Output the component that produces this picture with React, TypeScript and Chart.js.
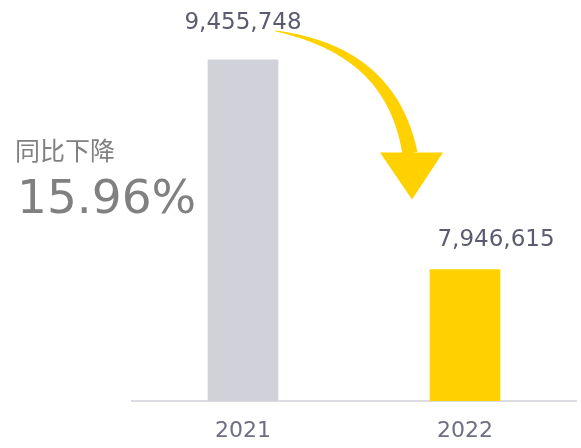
import { useEffect, useRef } from 'react';
import { Chart, registerables } from 'chart.js';

Chart.register(...registerables);

// ---- data ----
const categories = ['2021', '2022'];
const values = [9455748, 7946615];
const valueLabels = ['9,455,748', '7,946,615'];
const changeTitle = '同比下降';
const changeValue = '15.96%';
const yMin = 7000000;
const yMax = 9800000;

// ---- style ----
const barColors = ['#D1D1DA', '#FFD100'];
const arrowColor = '#FFD100';
const valueLabelOffsets = [
  [0, -31],
  [31, -23],
];

const annotationPlugin = {
  id: 'annotations',
  afterDatasetsDraw(chart: any) {
    const ctx = chart.ctx as CanvasRenderingContext2D;
    const meta = chart.getDatasetMeta(0);
    const b0 = meta.data[0];
    const b1 = meta.data[1];
    ctx.save();

    // value labels
    ctx.font = '23px "DejaVu Sans"';
    ctx.fillStyle = '#5B5B70';
    ctx.textAlign = 'center';
    ctx.textBaseline = 'alphabetic';
    meta.data.forEach((bar: any, i: number) => {
      ctx.fillText(valueLabels[i], bar.x + valueLabelOffsets[i][0], bar.y + valueLabelOffsets[i][1]);
    });

    // curved tapered arrow
    const sx = b0.x + 32;
    const sy = b0.y - 29;
    const tipX = b1.x - 53;
    const tipY = b1.y - 70;
    const ex = tipX - 2;
    const ey = tipY - 46;
    const c1x = sx + 70, c1y = sy + 12.5;
    const c2x = ex - 14, c2y = ey - 76;
    const N = 100;
    const left: number[][] = [];
    const right: number[][] = [];
    for (let k = 0; k <= N; k++) {
      const t = k / N;
      const mt = 1 - t;
      const x = mt * mt * mt * sx + 3 * mt * mt * t * c1x + 3 * mt * t * t * c2x + t * t * t * ex;
      const y = mt * mt * mt * sy + 3 * mt * mt * t * c1y + 3 * mt * t * t * c2y + t * t * t * ey;
      const dx = 3 * mt * mt * (c1x - sx) + 6 * mt * t * (c2x - c1x) + 3 * t * t * (ex - c2x);
      const dy = 3 * mt * mt * (c1y - sy) + 6 * mt * t * (c2y - c1y) + 3 * t * t * (ey - c2y);
      const len = Math.hypot(dx, dy) || 1;
      const nx = -dy / len;
      const ny = dx / len;
      const w = (0.8 + 14.5 * Math.pow(t, 0.85)) / 2;
      left.push([x + nx * w, y + ny * w]);
      right.push([x - nx * w, y - ny * w]);
    }
    ctx.fillStyle = arrowColor;
    ctx.beginPath();
    ctx.moveTo(left[0][0], left[0][1]);
    for (let k = 1; k < left.length; k++) ctx.lineTo(left[k][0], left[k][1]);
    for (let k = right.length - 1; k >= 0; k--) ctx.lineTo(right[k][0], right[k][1]);
    ctx.closePath();
    ctx.fill();
    ctx.beginPath();
    ctx.moveTo(tipX - 32, tipY - 47);
    ctx.lineTo(tipX + 31, tipY - 47);
    ctx.lineTo(tipX, tipY);
    ctx.closePath();
    ctx.fill();

    // change text
    ctx.textAlign = 'left';
    ctx.fillStyle = '#808080';
    ctx.font = '25px "Noto Sans CJK SC"';
    ctx.fillText(changeTitle, 15, 160);
    ctx.font = '47px "DejaVu Sans"';
    ctx.fillText(changeValue, 17, 213);

    ctx.restore();
  },
};

export default function App() {
  const ref = useRef<HTMLCanvasElement>(null);
  useEffect(() => {
    Chart.defaults.font.family = 'DejaVu Sans';
    const chart = new Chart(ref.current as HTMLCanvasElement, {
      type: 'bar',
      data: {
        labels: categories,
        datasets: [
          {
            data: values,
            backgroundColor: barColors,
            borderWidth: 0,
            barThickness: 70,
          },
        ],
      },
      options: {
        responsive: false,
        animation: false,
        devicePixelRatio: 1,
        layout: { padding: { left: 132, right: 5, top: 12, bottom: 0 } },
        plugins: { legend: { display: false }, tooltip: { enabled: false } },
        scales: {
          x: {
            grid: { display: false, drawTicks: false, tickLength: 0 },
            border: { display: true, color: '#DCDCE3', width: 2 },
            ticks: {
              color: '#6E6E84',
              font: { family: 'DejaVu Sans', size: 22 },
              padding: 17,
            },
            afterFit: (s: any) => {
              s.height = 47;
            },
          },
          y: { display: false, min: yMin, max: yMax },
        },
      },
      plugins: [annotationPlugin],
    } as any);
    return () => chart.destroy();
  }, []);
  return (
    <div style={{ position: 'absolute', left: 0, top: 0, width: 581, height: 448 }}>
      <canvas ref={ref} width={581} height={448} style={{ display: 'block' }} />
    </div>
  );
}
